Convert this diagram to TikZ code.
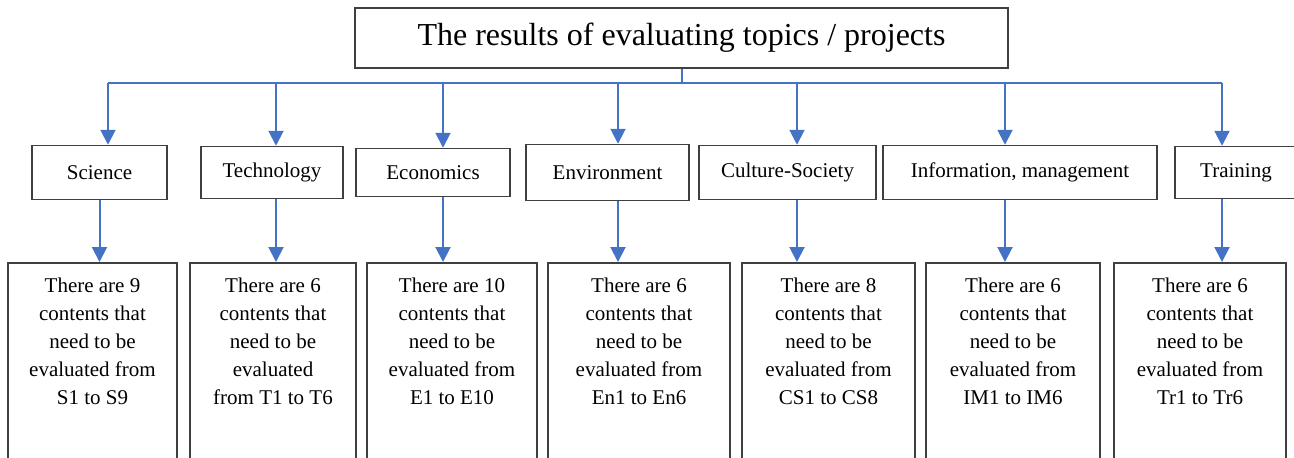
\documentclass[tikz,border=0pt]{standalone}
\usepackage{fontspec}
\setmainfont{Liberation Serif}
\usepackage{tikz}
\usetikzlibrary{arrows.meta,positioning}
\definecolor{linkblue}{HTML}{4472C4}
\definecolor{boxline}{HTML}{404040}
\tikzstyle{topbox} = [draw=boxline, line width=0.75pt, fill=white,
    minimum width=326.5pt, minimum height=30pt,
    font=\fontsize{16}{19}\selectfont]
\tikzstyle{field} = [draw=boxline, line width=0.75pt, fill=white,
    minimum height=27pt, inner sep=0pt, font=\fontsize{10.5}{13}\selectfont]
\tikzstyle{content} = [draw=boxline, line width=0.75pt, fill=white,
    inner xsep=0pt, inner ysep=0pt, text width=80pt, align=flush center,
    text height=15pt, text depth=100pt, font=\fontsize{10.5}{14}\selectfont]
\tikzstyle{bus} = [linkblue, line width=1pt]
\tikzstyle{link} = [bus, -{Triangle[width=7.5pt,length=7.5pt]}]

\begin{document}
\begin{tikzpicture}[x=0.5pt, y=-0.5pt]
  \useasboundingbox (0,0) rectangle (1294,457);
  \clip (0,0) rectangle (1294,457);
  \node [topbox] (top) at (681.5,38) {The results of evaluating topics / projects};
  % fields
  \node [field, minimum width=67.5pt] (sci) at (99.5,172.5) {Science};
  \node [field, minimum width=71pt, minimum height=26pt, right of=sci,
    node distance=86.25pt] (tec) {Technology};
  \node [field, minimum width=77pt, minimum height=24pt, right of=tec,
    node distance=80.5pt] (eco) {Economics};
  \node [field, minimum width=81.5pt, minimum height=28pt, right of=eco,
    node distance=87.25pt] (env) {Environment};
  \node [field, minimum width=88.5pt, right of=env,
    node distance=90pt] (cul) {Culture-Society};
  \node [field, minimum width=137pt, right of=cul,
    node distance=116.25pt] (inf) {Information, management};
  \node [field, minimum width=61pt, minimum height=26pt, right of=inf,
    node distance=108pt] (tra) {Training};
  % contents
  \node [content, minimum width=84.5pt, below of=sci, node distance=44.75pt,
    xshift=-3.5pt, anchor=north] (d1)
  {There are 9\\contents that\\need to be\\evaluated from\\S1 to S9};
  \node [content, minimum width=83pt, below of=tec, node distance=44.75pt,
    xshift=0.5pt, anchor=north] (d2)
  {There are 6\\contents that\\need to be\\evaluated\\from T1 to T6};
  \node [content, minimum width=85pt, below of=eco, node distance=44.75pt,
    xshift=9.5pt, anchor=north] (d3)
  {There are 10\\contents that\\need to be\\evaluated from\\E1 to E10};
  \node [content, minimum width=91pt, below of=env, node distance=44.75pt,
    xshift=15.75pt, anchor=north] (d4)
  {There are 6\\contents that\\need to be\\evaluated from\\En1 to En6};
  \node [content, minimum width=86.5pt, below of=cul, node distance=44.75pt,
    xshift=20.5pt, anchor=north] (d5)
  {There are 8\\contents that\\need to be\\evaluated from\\CS1 to CS8};
  \node [content, minimum width=87pt, below of=inf, node distance=44.75pt,
    xshift=-3.5pt, anchor=north] (d6)
  {There are 6\\contents that\\need to be\\evaluated from\\IM1 to IM6};
  \node [content, minimum width=86pt, below of=tra, node distance=44.75pt,
    xshift=-18pt, anchor=north] (d7)
  {There are 6\\contents that\\need to be\\evaluated from\\Tr1 to Tr6};
  % bus
  \coordinate (b1) at (108,83);
  \coordinate (b2) at (276,83);
  \coordinate (b3) at (443,83);
  \coordinate (b4) at (618,83);
  \coordinate (b5) at (797,83);
  \coordinate (b6) at (1005,83);
  \coordinate (b7) at (1222,83);
  \draw [bus] (top.south) -- (top.south |- b1);
  \draw [bus] (b1) -- (b7);
  \draw [link] (b1) -- (b1 |- sci.north);
  \draw [link] (b2) -- (b2 |- tec.north);
  \draw [link] (b3) -- (b3 |- eco.north);
  \draw [link] (b4) -- (b4 |- env.north);
  \draw [link] (b5) -- (b5 |- cul.north);
  \draw [link] (b6) -- (b6 |- inf.north);
  \draw [link] (b7) -- (b7 |- tra.north);
  \draw [link] (sci.south) -- (sci.south |- d1.north);
  \draw [link] (b2 |- tec.south) -- (b2 |- d2.north);
  \draw [link] (b3 |- eco.south) -- (b3 |- d3.north);
  \draw [link] (b4 |- env.south) -- (b4 |- d4.north);
  \draw [link] (b5 |- cul.south) -- (b5 |- d5.north);
  \draw [link] (b6 |- inf.south) -- (b6 |- d6.north);
  \draw [link] (b7 |- tra.south) -- (b7 |- d7.north);
\end{tikzpicture}
\end{document}
